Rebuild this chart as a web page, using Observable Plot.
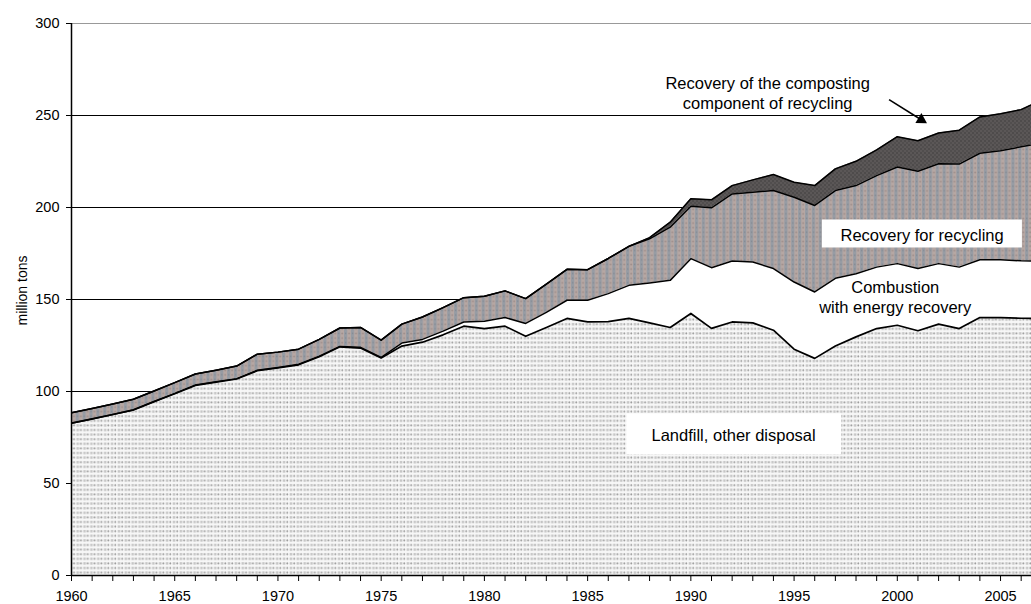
<!DOCTYPE html>
<html><head><meta charset="utf-8">
<script src="https://cdn.jsdelivr.net/npm/d3@7"></script>
<script src="https://cdn.jsdelivr.net/npm/@observablehq/plot@0.6"></script>
<style>
body{margin:0;background:#fff;}
#chart{width:1031px;height:604px;overflow:hidden;}
</style>
</head><body><div id="chart"></div>
<script>
// Data (million tons)
const years = [1960,1961,1962,1963,1964,1965,1966,1967,1968,1969,1970,1971,1972,1973,1974,1975,1976,1977,1978,1979,1980,1981,1982,1983,1984,1985,1986,1987,1988,1989,1990,1991,1992,1993,1994,1995,1996,1997,1998,1999,2000,2001,2002,2003,2004,2005,2006,2007];
const landfill   = [82.8,85.1,87.5,90.0,94.5,98.8,103.3,105.1,106.8,111.3,112.8,114.5,118.9,124.3,123.6,118.2,124.7,126.8,130.8,135.5,134.2,135.5,130.0,134.8,139.7,137.8,138.0,139.7,137.3,134.8,142.4,134.3,137.8,137.3,133.3,123.0,118.0,124.7,129.7,134.2,136.0,133.0,136.6,134.2,140.2,140.2,139.8,139.6];
const combustion = [0.0,0.0,0.0,0.0,0.1,0.2,0.2,0.2,0.2,0.3,0.3,0.3,0.3,0.2,0.4,0.3,1.6,1.5,2.0,2.3,4.0,4.7,7.0,8.2,9.9,11.8,15.2,18.0,21.7,25.6,29.8,33.0,33.1,33.1,33.5,36.5,36.1,36.8,34.3,33.4,33.5,33.8,32.9,33.4,31.4,31.4,31.2,31.2];
const recycling  = [5.7,5.7,5.7,5.8,5.7,5.8,6.0,6.3,6.8,8.7,8.3,8.2,9.1,10.0,10.8,9.4,10.3,12.2,12.8,13.2,13.6,14.5,13.5,15.3,16.8,16.6,19.1,21.2,24.0,28.9,28.5,32.5,36.5,37.9,42.4,46.1,47.0,47.7,47.9,49.7,52.5,52.9,54.3,56.0,57.9,59.2,62.0,64.2];
const composting = [0,0,0,0,0,0,0,0,0,0,0,0,0,0,0,0,0,0,0,0,0,0,0,0,0,0,0,0,0.6,2.7,4.0,4.4,4.5,6.7,8.7,8.1,10.8,11.8,13.2,14.0,16.5,16.6,16.7,18.4,19.7,20.2,20.2,23.5];

const yTicks = [0,50,100,150,200,250,300];
const gridLines = [100,150,200,250];
const xTicks = years.filter(y => y <= 2006);
const yTitle = "million tons";

// Annotations
const labelsPlain = [
  {x: 1992.07, y: 76.6, text: "Landfill, other disposal"},
  {x: 2001.2, y: 185.2, text: "Recovery for recycling"},
  {x: 1999.9, y: 151.7, text: "Combustion\nwith energy recovery"},
  {x: 1993.72, y: 262.5, text: "Recovery of the composting\ncomponent of recycling"}
];
const labelBoxes = [
  {x1: 1986.9, x2: 1997.3, y1: 65.7, y2: 87.8},
  {x1: 1996.37, x2: 2006.06, y1: 178.0, y2: 193.2}
];
const arrowLine = [{x1: 1999.6, y1: 258.6, x2: 2001.16, y2: 247.7}];
const arrowHead = [{x: 2001.16, y: 247.7}];

const table = years.map((year, i) => {
  const l = landfill[i];
  const c = l + combustion[i];
  const r = c + recycling[i];
  const t = r + composting[i];
  return {year, l, c, r, t};
});

const font = "'Liberation Sans', Arial, Helvetica, sans-serif";

const svg = Plot.plot({
  width: 1031,
  height: 604,
  marginLeft: 71,
  marginRight: 0,
  marginTop: 23,
  marginBottom: 29,
  style: {fontFamily: font, fontSize: "14.5px", color: "#000", background: "#fff", overflow: "hidden"},
  x: {domain: [1960, 2006.5]},
  y: {domain: [0, 300]},
  marks: [
    Plot.ruleY(gridLines, {stroke: "#000", strokeWidth: 1}),
    Plot.ruleY([300], {stroke: "#999", strokeWidth: 1.2}),
    Plot.areaY(table, {x: "year", y1: 0, y2: "l", fill: "url(#pat-landfill)", clip: true}),
    Plot.areaY(table, {x: "year", y1: "l", y2: "c", fill: "#fff", clip: true}),
    Plot.areaY(table, {x: "year", y1: "c", y2: "r", fill: "url(#pat-recycle)", clip: true}),
    Plot.areaY(table, {x: "year", y1: "r", y2: "t", fill: "url(#pat-compost)", clip: true}),
    Plot.lineY(table, {x: "year", y: "l", stroke: "#000", strokeWidth: 1.7, clip: true}),
    Plot.lineY(table, {x: "year", y: "c", stroke: "#000", strokeWidth: 1.5, clip: true}),
    Plot.lineY(table, {x: "year", y: "r", stroke: "#000", strokeWidth: 1.5, clip: true}),
    Plot.lineY(table, {x: "year", y: "t", stroke: "#000", strokeWidth: 1.5, clip: true}),
    Plot.rect(labelBoxes, {x1: "x1", x2: "x2", y1: "y1", y2: "y2", fill: "#fff"}),
    Plot.text(labelsPlain, {x: "x", y: "y", text: "text", fontSize: 16.5, lineHeight: 1.2, fill: "#000"}),
    Plot.link(arrowLine, {x1: "x1", y1: "y1", x2: "x2", y2: "y2", stroke: "#000", strokeWidth: 1.6}),
    Plot.dot(arrowHead, {x: "x", y: "y", symbol: "triangle", r: 4.3, rotate: 121.4, fill: "#000", stroke: "none"}),
    Plot.ruleX([1960], {y1: 0, y2: 300, stroke: "#000", strokeWidth: 1.5}),
    Plot.ruleY([0], {stroke: "#000", strokeWidth: 1.5}),
    Plot.axisY({ticks: yTicks, tickSize: 5, tickPadding: 7, label: null, fontSize: 14.5, tickFormat: d => String(d)}),
    Plot.axisX({ticks: xTicks, tickSize: 6, tickPadding: 9, label: null, fontSize: 14.5, tickFormat: d => (d % 5 === 0 ? String(d) : "")}),
    Plot.text([yTitle], {frameAnchor: "left", text: d => d, rotate: -90, dx: -49, dy: -9, textAnchor: "middle", fontSize: 14, fill: "#000"})
  ]
});

const defs = document.createElementNS("http://www.w3.org/2000/svg", "defs");
defs.innerHTML = `
<pattern id="pat-landfill" patternUnits="userSpaceOnUse" width="6.88" height="4.6">
  <rect width="6.88" height="4.6" fill="#f7f7f7"/>
  <rect x="0.7" y="1.0" width="2.6" height="2.4" fill="#c6c6c6"/>
  <circle cx="5.2" cy="2.2" r="0.95" fill="#9c9c9c"/>
</pattern>
<pattern id="pat-recycle" patternUnits="userSpaceOnUse" width="6.88" height="4.6">
  <rect width="6.88" height="4.6" fill="#b6a7a3"/>
  <rect x="0" y="0" width="3.2" height="4.6" fill="#979ca4"/>
  <circle cx="5.1" cy="2.3" r="1" fill="#a08f8c"/>
  <rect x="1" y="1.4" width="1.3" height="1.6" fill="#858b94"/>
</pattern>
<pattern id="pat-compost" patternUnits="userSpaceOnUse" width="4" height="4">
  <rect width="4" height="4" fill="#5b5757"/>
  <rect x="0" y="0" width="2" height="2" fill="#4e4b4b"/>
  <rect x="2" y="2" width="2" height="2" fill="#514e4e"/>
</pattern>`;
svg.insertBefore(defs, svg.firstChild);

document.getElementById("chart").appendChild(svg);
</script>
</body></html>
